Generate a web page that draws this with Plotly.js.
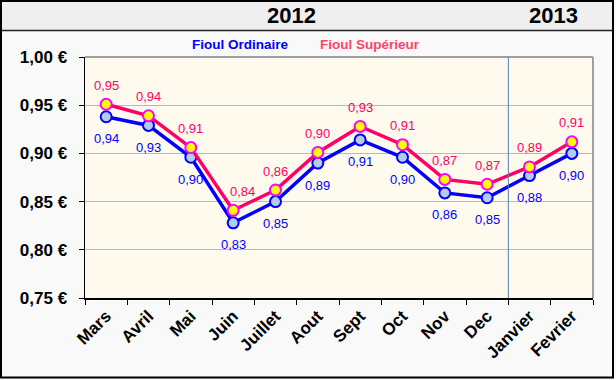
<!DOCTYPE html>
<html>
<head>
<meta charset="utf-8">
<script src="https://cdn.plot.ly/plotly-3.0.1.min.js"></script>
<style>html,body{margin:0;padding:0;background:#fff;}#chart{width:616px;height:380px;}</style>
</head>
<body>
<div id="chart"></div>
<script>
var months = ["Mars","Avril","Mai","Juin","Juillet","Aout","Sept","Oct","Nov","Dec","Janvier","Fevrier"];
var ordinaire = [0.938,0.929,0.896,0.828,0.850,0.890,0.914,0.896,0.859,0.854,0.877,0.900];
var superieur = [0.951,0.939,0.906,0.841,0.862,0.901,0.928,0.909,0.873,0.868,0.886,0.912];
var yTicks = [0.75,0.80,0.85,0.90,0.95,1.00];
var years = ["2012","2013"];
var seriesNames = ["Fioul Ordinaire","Fioul Supérieur"];

function fmt(v){ return v.toFixed(2).replace('.', ','); }
var yTickText = yTicks.map(function(v){ return fmt(v) + ' €'; });

var font = "Liberation Sans, Arial, sans-serif";
var W = 616, H = 380, L = 85, R = 23, T = 57, B = 82;
var pw = W - L - R, ph = H - T - B;
function px(x){ return (x - L) / pw; }
function py(y){ return (H - B - y) / ph; }

var traces = [
  {x: months, y: ordinaire, type: 'scatter', mode: 'lines+markers', name: seriesNames[0],
   line: {color: '#0000ff', width: 3.5},
   marker: {size: 11, color: '#b4cbe9', line: {color: '#0000ff', width: 2}}},
  {x: months, y: superieur, type: 'scatter', mode: 'lines+markers', name: seriesNames[1],
   line: {color: '#ff0066', width: 3.5},
   marker: {size: 11, color: '#ffff00', line: {color: '#ff00ff', width: 2}}}
];

var annotations = [];
months.forEach(function(m, i){
  annotations.push({x: m, y: ordinaire[i], xref: 'x', yref: 'y', text: fmt(ordinaire[i]),
    showarrow: false, yshift: -22, xanchor: 'center', yanchor: 'middle',
    font: {family: font, size: 13, color: '#0000ff'}});
  annotations.push({x: m, y: superieur[i], xref: 'x', yref: 'y', text: fmt(superieur[i]),
    showarrow: false, yshift: 19, xshift: (m === 'Juin' ? 9 : 0), xanchor: 'center', yanchor: 'middle',
    font: {family: font, size: 13, color: '#ff0066'}});
});
// year headers
annotations.push({x: px(291), y: py(16), xref: 'paper', yref: 'paper', text: '<b>' + years[0] + '</b>',
  showarrow: false, xanchor: 'center', yanchor: 'middle', font: {family: font, size: 22, color: '#000'}});
annotations.push({x: px(553), y: py(16), xref: 'paper', yref: 'paper', text: '<b>' + years[1] + '</b>',
  showarrow: false, xanchor: 'center', yanchor: 'middle', font: {family: font, size: 22, color: '#000'}});
// legend texts
annotations.push({x: px(240), y: py(45), xref: 'paper', yref: 'paper', text: '<b>' + seriesNames[0] + '</b>',
  showarrow: false, xanchor: 'center', yanchor: 'middle', font: {family: font, size: 13.5, color: '#0000ff'}});
annotations.push({x: px(370), y: py(45), xref: 'paper', yref: 'paper', text: '<b>' + seriesNames[1] + '</b>',
  showarrow: false, xanchor: 'center', yanchor: 'middle', font: {family: font, size: 13.5, color: '#ff4466'}});

var shapes = [
  // header band
  {type: 'rect', xref: 'paper', yref: 'paper', x0: px(1), x1: px(613), y0: py(30.5), y1: py(1),
   fillcolor: '#efefef', line: {width: 0}, layer: 'below'},
  {type: 'line', xref: 'paper', yref: 'paper', x0: px(1), x1: px(613), y0: py(30.5), y1: py(30.5),
   line: {color: '#222', width: 1.5}},
  // outer frame
  {type: 'rect', xref: 'paper', yref: 'paper', x0: px(1), x1: px(613), y0: py(377.5), y1: py(1),
   line: {color: '#000', width: 2}},
  // plot frame top/right
  {type: 'line', xref: 'paper', yref: 'paper', x0: 0, x1: 1, y0: 1, y1: 1, line: {color: '#a0a0a0', width: 2}},
  {type: 'line', xref: 'paper', yref: 'paper', x0: 1, x1: 1, y0: 0, y1: 1, line: {color: '#a0a0a0', width: 2}},
  // year separator
  {type: 'line', xref: 'x', yref: 'paper', x0: 9.5, x1: 9.5, y0: 0, y1: 1, line: {color: '#5a7db5', width: 1}}
];

var layout = {
  width: W, height: H,
  margin: {l: L, r: R, t: T, b: B, pad: 0},
  paper_bgcolor: '#f9f9f9',
  plot_bgcolor: '#fffaee',
  showlegend: false,
  font: {family: font},
  xaxis: {
    type: 'category', tickson: 'boundaries', ticks: 'outside', ticklen: 5, tickcolor: '#000',
    tickangle: -45, showline: true, linecolor: '#000', linewidth: 1.5, showgrid: false,
    tickfont: {family: font, size: 17, color: '#000', weight: 'bold'},
    range: [-0.5, 11.5], fixedrange: true
  },
  yaxis: {
    range: [0.75, 1.00], tickmode: 'array', tickvals: yTicks, ticktext: yTickText,
    ticks: 'outside', ticklen: 5, tickcolor: '#000', showline: true, linecolor: '#000', linewidth: 1.5,
    ticklabelstandoff: 8,
    gridcolor: '#b8b8b8', gridwidth: 1, zeroline: false,
    tickfont: {family: font, size: 17, color: '#000', weight: 'bold'}, fixedrange: true
  },
  shapes: shapes,
  annotations: annotations
};

Plotly.newPlot('chart', traces, layout, {displayModeBar: false, staticPlot: true});
</script>
</body>
</html>
